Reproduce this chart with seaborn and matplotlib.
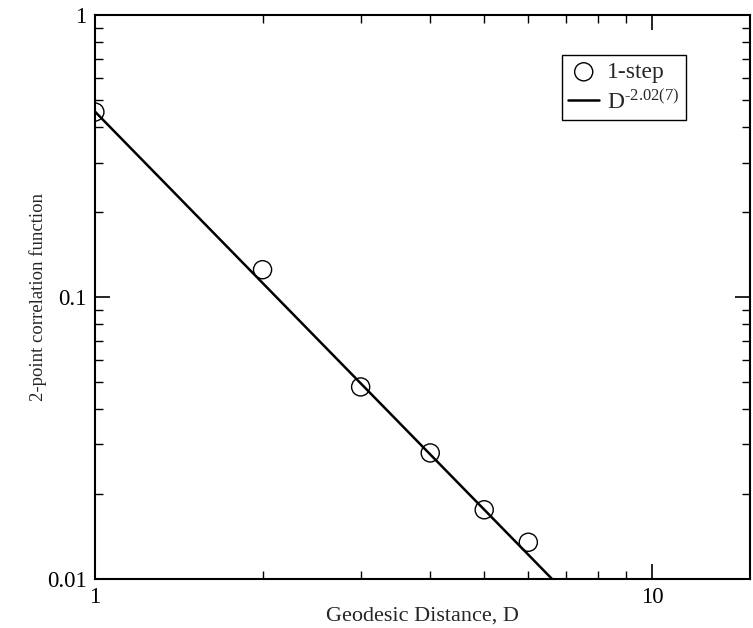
import matplotlib
matplotlib.use("Agg")
import matplotlib.pyplot as plt
import seaborn as sns
import pandas as pd
from matplotlib.ticker import LogLocator, NullFormatter, FixedLocator, FixedFormatter

# Data
distance = [1, 2, 3, 4, 5, 6]
correlation = [0.453, 0.125, 0.048, 0.028, 0.0176, 0.0135]
fit_D = [1.0, 10.0]
fit_C = [0.455, 0.455 * 10.0 ** -2.02]
x_ticks = [1, 10]
x_tick_labels = ["1", "10"]
y_ticks = [0.01, 0.1, 1]
y_tick_labels = ["0.01", "0.1", "1"]

sns.set_theme(style="ticks")
plt.rcParams['font.family'] = ['Liberation Serif', 'DejaVu Serif']
plt.rcParams['mathtext.fontset'] = 'custom'
plt.rcParams['mathtext.rm'] = 'Liberation Serif'
plt.rcParams['mathtext.it'] = 'Liberation Serif:italic'
plt.rcParams['mathtext.bf'] = 'Liberation Serif:bold'

fig = plt.figure(figsize=(7.53, 6.28), dpi=100)
ax = fig.add_axes([0.126, 0.078, 0.87, 0.898])

df_pts = pd.DataFrame({"D": distance, "C": correlation})
df_fit = pd.DataFrame({"D": fit_D, "C": fit_C})

fit_label = r"D$^{\text{-2.02(7)}}$"
sns.lineplot(data=df_fit, x="D", y="C", ax=ax, color="black", linewidth=1.8,
             label=fit_label, zorder=2)
sns.scatterplot(data=df_pts, x="D", y="C", ax=ax, marker="o", s=170,
                facecolor="none", edgecolor="black", linewidth=1.0,
                label="1-step", zorder=3)

ax.set_xscale("log")
ax.set_yscale("log")
ax.set_xlim(1, 15)
ax.set_ylim(0.01, 1)

ax.xaxis.set_major_locator(FixedLocator(x_ticks))
ax.xaxis.set_major_formatter(FixedFormatter(x_tick_labels))
ax.yaxis.set_major_locator(FixedLocator(y_ticks))
ax.yaxis.set_major_formatter(FixedFormatter(y_tick_labels))
ax.xaxis.set_minor_locator(LogLocator(base=10, subs=range(2, 10)))
ax.yaxis.set_minor_locator(LogLocator(base=10, subs=range(2, 10)))
ax.xaxis.set_minor_formatter(NullFormatter())
ax.yaxis.set_minor_formatter(NullFormatter())

ax.tick_params(which="both", direction="in", top=True, right=True, colors="black")
ax.tick_params(which="major", length=10.5, width=1.2, labelsize=16.5, pad=6)
ax.tick_params(which="minor", length=5.5, width=1.0)
for sp in ax.spines.values():
    sp.set_linewidth(1.5)
    sp.set_color("black")

ax.set_xlabel("Geodesic Distance, D", fontsize=16, labelpad=-1)
ax.set_ylabel("2-point correlation function", fontsize=13.5, labelpad=0)

handles, labels = ax.get_legend_handles_labels()
order = [labels.index("1-step"), labels.index(fit_label)]
leg = ax.legend([handles[i] for i in order], [labels[i] for i in order],
                loc="upper left", bbox_to_anchor=(0.713, 0.929), fontsize=17,
                frameon=True, fancybox=False, edgecolor="black", framealpha=1,
                handlelength=1.3, handletextpad=0.35, borderpad=0.27,
                labelspacing=0.3, borderaxespad=0)
leg.get_frame().set_linewidth(1.0)

fig.savefig("out.png", dpi=100)
